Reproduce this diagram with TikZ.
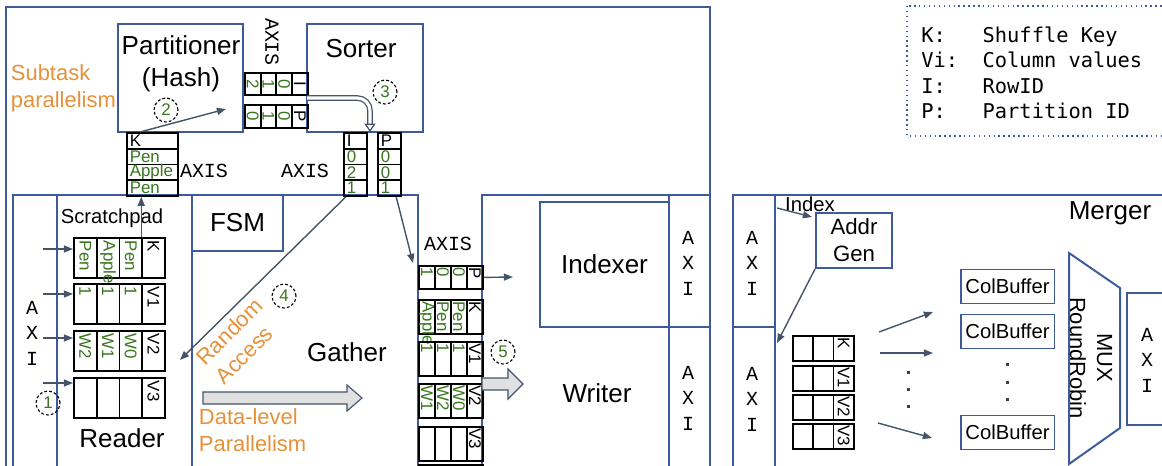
\documentclass[tikz,border=0pt]{standalone}
\usepackage{fontspec}
\setmainfont{Liberation Sans}
\setmonofont{Liberation Mono}
\newfontfamily\legendfont{DejaVu Sans Mono}
\usepackage{tikz}
\usetikzlibrary{arrows.meta}

\definecolor{boxblue}{RGB}{61,91,155}
\definecolor{arrowgray}{RGB}{68,84,106}
\definecolor{valgreen}{RGB}{56,118,29}
\definecolor{noteorange}{RGB}{230,145,56}
\definecolor{fillgray}{RGB}{224,224,224}

\begin{document}
\begin{tikzpicture}[x=0.025cm, y=-0.025cm,
  blk/.style={draw=boxblue, line width=1.4pt},
  cell/.style={draw=black, line width=1.3pt, inner sep=0pt},
  lbl/.style={font=\fontsize{18.5}{22.8}\selectfont, align=center},
  small/.style={font=\fontsize{14.4}{18}\selectfont, align=center},
  note/.style={text=noteorange, font=\fontsize{15.6}{19}\selectfont, align=left},
  val/.style={text=valgreen, font=\fontsize{12}{13}\selectfont, inner sep=0.5pt},
  tag/.style={val, text=black},
  axis/.style={font=\ttfamily\fontsize{14.2}{18.1}\selectfont, align=center, inner sep=0pt},
  link/.style={draw=arrowgray, line width=1pt, -{Triangle[length=6.5pt,width=5pt]}},
  hollow/.style={draw=arrowgray, line width=0.9pt, double=white, double distance=2.2pt, -{Triangle[open,length=6pt,width=8pt]}},
  fatarrow/.style={draw=arrowgray, fill=fillgray, line width=0.8pt},
  marker/.style={circle, draw=black, dash pattern=on 2pt off 1.5pt, line width=0.8pt, minimum size=0.6cm, inner sep=0pt, text=valgreen, font=\fontsize{12}{14}\selectfont},
  legend/.style={font=\legendfont\fontsize{14.5}{18}\selectfont, align=left, inner sep=0pt}
]
\useasboundingbox (0,0) rectangle (1162,466);
\clip (0,0) rectangle (1162,466);

\draw[blk] (6,480) -- (6,7) -- (710,7) -- (710,480);
\draw[blk] (13,480) -- (13,195) -- (418,195) -- (418,480);
\draw[blk] (57,195) -- (57,480);
\draw[blk] (192,195) -- (192,480);
\draw[blk] (482,480) -- (482,195) -- (710,195);
\draw[blk] (669,195) -- (669,480);
\draw[blk] (669,327) -- (710,327);
\draw[blk] (733,480) -- (733,195) -- (1170,195);
\draw[blk] (775,195) -- (775,480);
\draw[blk] (733,327) -- (775,327);
\draw[blk] (1170,293) -- (1127,293) -- (1127,425) -- (1170,425);
\draw[blk] (1069,253) -- (1120,288) -- (1120,428) -- (1069,464) -- cycle;
\draw[boxblue, line width=1pt, dash pattern=on 1pt off 2.5pt] (907,6) rectangle (1175,136);

\node[blk, minimum width=3.125cm, minimum height=2.7cm] (part) at (180.5,78) {};
\node[lbl] (partlbl) at (181,64) {Partitioner\\(Hash)};
\node[blk, minimum width=2.9cm, minimum height=2.7cm] (sort) at (365,78) {};
\node[lbl] (sortlbl) at (361,49) {Sorter};
\node[blk, lbl, minimum width=2.275cm, minimum height=1.4cm] (fsm) at (237.5,223) {FSM};
\node[blk, lbl, minimum width=3.225cm, minimum height=3.125cm] (indexer) at (604.5,264.5) {Indexer};
\node[lbl] (gather) at (347,352) {Gather};
\node[lbl] (reader) at (122,438) {Reader};
\node[lbl] (writer) at (597,393) {Writer};
\node[lbl] (merger) at (1110,213) {Merger};
\node[small] (scratch) at (112,218) {Scratchpad};
\node[small] (index) at (810,204) {Index};
\node[blk, font=\fontsize{15.8}{19.2}\selectfont, align=center, minimum width=1.9cm, minimum height=1.375cm] (addr) at (854,240.5) {Addr\\Gen};
\foreach \n/\yy in {1/286.5, 2/331.5, 3/432.5}
  \node[blk, small, line width=1pt, minimum width=2.275cm, minimum height=0.85cm] (cb\n) at (1007.5,\yy) {ColBuffer};
\node[font=\fontsize{15.6}{19.2}\selectfont, align=center, rotate=-90] (mux) at (1091,358) {MUX\\RoundRobin};

\foreach \n/\xx/\yy in {rd/32/333, ixr/688/263, wr/688/398, mgi/752/263, mgo/752/399, out/1147/360}
  \node[axis] (axi\n) at (\xx,\yy) {A\\X\\I};
\node[axis, rotate=-90] (axisps) at (272,42) {AXIS};
\node[axis] (axisk) at (204,171) {AXIS};
\node[axis] (axisip) at (305,171) {AXIS};
\node[axis] (axisg) at (448,244) {AXIS};

\node[note, anchor=west] (subtask) at (6,88) {Subtask\\parallelism};
\node[note, anchor=west] (datalvl) at (194,430) {Data-level\\Parallelism};
\node[note, rotate=45] (random) at (239,341) {Random\\Access};

\node[marker] (m1) at (48,403) {1};
\node[marker] (m2) at (166,110) {2};
\node[marker] (m3) at (385,92) {3};
\node[marker] (m4) at (284,296) {4};
\node[marker] (m5) at (503,352) {5};

\foreach \row/\yy/\hh/\ta/\tb/\tc in {I/72/22/2/1/0, P/104/23/0/1/0}{
  \foreach \i/\t in {0/\ta,1/\tb,2/\tc}{
    \node[cell, minimum width=0.39cm, minimum height=\hh*0.025cm, anchor=north west] (ps\row\i) at (244+\i*15.75,\yy) {};
    \node[val, rotate=-90] (pst\row\i) at (ps\row\i) {\t};
  }
  \node[cell, minimum width=0.39cm, minimum height=\hh*0.025cm, anchor=north west] (ps\row3) at (244+3*15.75,\yy) {};
  \node[tag, rotate=-90] (pst\row3) at (ps\row3) {\row};
}

\foreach \t/\s [count=\i from 0] in {K/tag,Pen/val,Apple/val,Pen/val}{
  \node[cell, minimum width=1.275cm, minimum height=0.394cm, anchor=north west] (kc\i) at (126,132+\i*15.75) {};
  \node[\s, anchor=west] (kct\i) at ([xshift=2pt]kc\i.west) {\t};
}
\foreach \t/\s [count=\i from 0] in {I/tag,0/val,2/val,1/val}{
  \node[cell, minimum width=0.575cm, minimum height=0.394cm, anchor=north west] (ic\i) at (343,132+\i*15.75) {};
  \node[\s, anchor=west] (ict\i) at ([xshift=2pt]ic\i.west) {\t};
}
\foreach \t/\s [count=\i from 0] in {P/tag,0/val,0/val,1/val}{
  \node[cell, minimum width=0.575cm, minimum height=0.394cm, anchor=north west] (pc\i) at (377,132+\i*15.75) {};
  \node[\s, anchor=west] (pct\i) at ([xshift=2pt]pc\i.west) {\t};
}

\foreach \row/\yy/\ta/\tb/\tc in {K/237/Pen/Apple/Pen, V1/283/1/1/1, V2/330/W2/W1/W0, V3/377/{}/{}/{}}{
  \foreach \i/\t in {0/\ta,1/\tb,2/\tc}{
    \node[cell, minimum width=0.569cm, minimum height=1cm, anchor=north west] (sp\row\i) at (73+\i*22.75,\yy) {};
    \node[val, rotate=-90, anchor=west] (spt\row\i) at ([yshift=-2pt]sp\row\i.north) {\t};
  }
  \node[cell, minimum width=0.569cm, minimum height=1cm, anchor=north west] (sp\row3) at (73+3*22.75,\yy) {};
  \node[tag, rotate=-90, anchor=west] (spt\row3) at ([yshift=-2pt]sp\row3.north) {\row};
}

\foreach \row/\yy/\hh/\ta/\tb/\tc in {P/265/23/1/0/0, K/299/34/Apple/Pen/Pen, V1/341/34/1/1/1, V2/383/34/W1/W2/W0, V3/426/34/{}/{}/{}}{
  \foreach \i/\t in {0/\ta,1/\tb,2/\tc}{
    \node[cell, minimum width=0.4cm, minimum height=\hh*0.025cm, anchor=north west] (g\row\i) at (418+\i*16,\yy) {};
    \node[val, rotate=-90, anchor=west] (gt\row\i) at ([yshift=-1pt]g\row\i.north) {\t};
  }
  \node[cell, minimum width=0.4cm, minimum height=\hh*0.025cm, anchor=north west] (g\row3) at (418+3*16,\yy) {};
  \node[tag, rotate=-90, anchor=west] (gt\row3) at ([yshift=-1pt]g\row3.north) {\row};
}
\foreach \i in {0,...,3}
  \node[cell, minimum width=0.4cm, minimum height=0.85cm, anchor=north west] (gX\i) at (418+\i*16,464) {};

\foreach \row/\yy in {K/335, V1/365, V2/394, V3/423}{
  \foreach \i in {0,1,2}
    \node[cell, minimum width=0.508cm, minimum height=0.625cm, anchor=north west] (mb\row\i) at (792+\i*20.3,\yy) {};
  \node[tag, rotate=-90, anchor=west] (mbt\row) at ([yshift=-1pt]mb\row2.north) {\row};
}

\coordinate (hashtip) at (226,109);
\draw[link] ([xshift=0.35cm]kc0.north west) -- (hashtip);
\draw[link] (spK3.north west) -- (spK3.north west |- kc3.south);
\foreach \row/\yy in {K/249, V1/294, V2/338, V3/383}{
  \coordinate (in\row) at (43,\yy);
  \draw[link] (in\row) -- (in\row -| sp\row0.west);
}
\coordinate (ratip) at (180,360);
\draw[link] ([xshift=2pt]ic3.south west) -- (ratip);
\coordinate (gtip) at (413,263);
\draw[link] ([xshift=-4pt]pc3.south east) -- (gtip);
\coordinate (idxtip) at (513,277);
\draw[link] (gP3.east) -- (idxtip);
\coordinate (idxsrc) at (777,208);
\coordinate (addrtip) at (812,217);
\draw[link] (idxsrc) -- (addrtip);
\coordinate (buftip) at (777,343);
\draw[link] (addr.south west) -- (buftip);
\foreach \n/\sx/\sy/\tx/\ty in {1/879/332/933/312, 2/880/353/933/353, 3/878/423/932/438}{
  \coordinate (fan\n s) at (\sx,\sy);
  \coordinate (fan\n t) at (\tx,\ty);
  \draw[link] (fan\n s) -- (fan\n t);
}

\coordinate (sortin) at (307,98);
\coordinate (sortout) at (370,132);
\draw[hollow, rounded corners=9pt] (sortin) -| (sortout);

\draw[fatarrow] (203,392) -- (347,392) -- (347,385) -- (362,398) -- (347,411) -- (347,404) -- (203,404) -- cycle;
\draw[fatarrow] (482,378) -- (508,378) -- (508,369) -- (523,384) -- (508,399) -- (508,390) -- (482,390) -- cycle;

\foreach \yy in {372,389,406}
  \fill[black!75] (906.5,\yy-1.5) rectangle +(3,3);
\foreach \yy in {364,382,399}
  \fill[black!75] (1005.5,\yy-1.5) rectangle +(3,3);

\node[legend, anchor=west] (legend) at (921,73) {K:~~~Shuffle Key\\Vi:~~Column values\\I:~~~RowID\\P:~~~Partition ID};
\end{tikzpicture}
\end{document}
